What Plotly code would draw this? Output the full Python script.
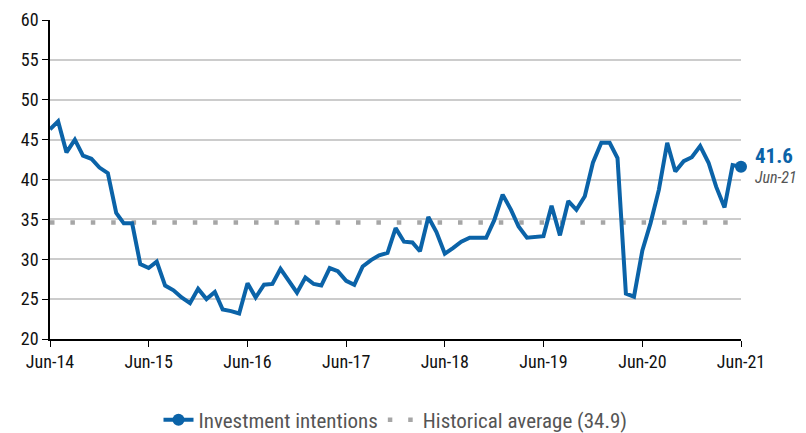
import pandas as pd
import plotly.graph_objects as go

# Monthly, Jun-14 .. Jun-21
months = pd.date_range("2014-06-01", "2021-06-01", freq="MS")

investment = [
    46.3, 47.3, 43.4, 45.0, 43.0, 42.6, 41.5, 40.8, 35.8, 34.5,
    34.5, 29.4, 28.9, 29.7, 26.7, 26.1, 25.2, 24.5, 26.3, 25.0,
    25.9, 23.7, 23.5, 23.2, 27.0, 25.2, 26.8, 26.9, 28.8, 27.3,
    25.8, 27.7, 26.9, 26.7, 28.9, 28.5, 27.3, 26.8, 29.1, 29.9,
    30.5, 30.8, 33.9, 32.2, 32.1, 31.0, 35.3, 33.4, 30.7, 31.4,
    32.2, 32.7, 32.7, 32.7, 34.9, 38.1, 36.2, 34.1, 32.7, 32.8,
    32.9, 36.7, 33.0, 37.3, 36.2, 37.9, 42.1, 44.6, 44.6, 42.7,
    25.7, 25.3, 31.1, 34.5, 38.7, 44.6, 41.0, 42.3, 42.8, 44.2,
    42.1, 39.1, 36.5, 41.8, 41.6,
]
hist_avg = 34.6
hist_label = "Historical average (34.9)"

tick_vals = pd.date_range("2014-06-01", "2021-06-01", freq="12MS")
tick_text = ["Jun-14", "Jun-15", "Jun-16", "Jun-17", "Jun-18", "Jun-19", "Jun-20", "Jun-21"]

BLUE = "#0b63a8"
FONT = "Roboto Condensed, sans-serif"

fig = go.Figure()

# average line (dotted)
fig.add_trace(go.Scatter(
    x=[months[0], months[-1]], y=[hist_avg, hist_avg],
    mode="lines", name=hist_label,
    line=dict(color="#a6a6a6", width=4.5, dash="4.5px,15.9px"),
    legendrank=2,
))

# main series
fig.add_trace(go.Scatter(
    x=months, y=investment, mode="lines",
    line=dict(color=BLUE, width=4), showlegend=False,
    hoverinfo="x+y",
))

# last point marker (also legend entry)
fig.add_trace(go.Scatter(
    x=[months[-1]], y=[investment[-1]], mode="lines+markers",
    name="Investment intentions",
    line=dict(color=BLUE, width=4),
    marker=dict(color=BLUE, size=12),
    cliponaxis=False,
    legendrank=1,
))

fig.add_annotation(
    x=months[-1], y=investment[-1], xref="x", yref="y",
    text="<b>%.1f</b>" % investment[-1], showarrow=False,
    xanchor="left", yanchor="middle", xshift=12, yshift=11,
    font=dict(size=21, color=BLUE, family=FONT),
)
fig.add_annotation(
    x=months[-1], y=investment[-1], xref="x", yref="y",
    text="<i>Jun-21</i>", showarrow=False,
    xanchor="left", yanchor="middle", xshift=12, yshift=-11,
    font=dict(size=16, color="#555555", family=FONT),
)

fig.update_xaxes(
    range=[months[0], months[-1]],
    tickvals=tick_vals, ticktext=tick_text,
    showgrid=False, showline=True, linecolor="#000000", linewidth=1.5,
    ticks="outside", ticklen=6, tickcolor="#000000",
    tickfont=dict(size=18, color="#111111"),
    automargin=False,
)
fig.update_yaxes(
    range=[20, 60], dtick=5,
    showgrid=True, gridcolor="#cccccc", gridwidth=1.5,
    zeroline=False,
    showline=True, linecolor="#000000", linewidth=1.5,
    ticks="outside", ticklen=6, tickcolor="#000000",
    tickfont=dict(size=18, color="#111111"),
    automargin=False,
)

fig.update_layout(
    width=806, height=433,
    margin=dict(l=50, r=65, t=20, b=94, autoexpand=False),
    plot_bgcolor="white", paper_bgcolor="white",
    font=dict(family=FONT, color="#555555"),
    showlegend=True,
    legend=dict(
        orientation="h", x=0.5, xanchor="center",
        yref="container", y=0.03, yanchor="middle",
        font=dict(size=21, color="#555555"),
        traceorder="normal",
    ),
)

fig.write_html("out.html", config={"displayModeBar": False},
               post_script="document.body.style.margin='0'")
